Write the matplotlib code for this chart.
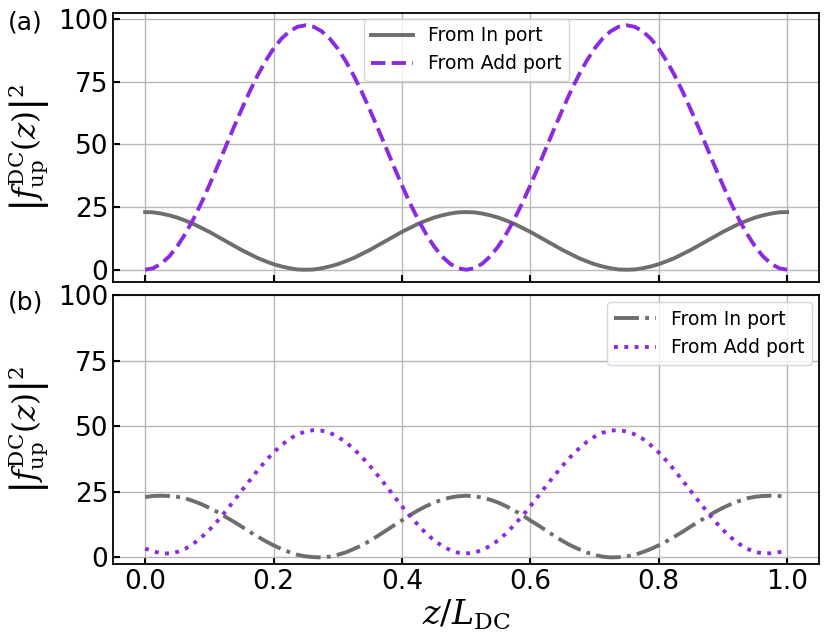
import numpy as np
import matplotlib
matplotlib.use('Agg')
import matplotlib.pyplot as plt

plt.rcParams['mathtext.fontset'] = 'dejavuserif'

# z / L_DC sample points (step 0.0125)
z = np.linspace(0.0, 1.0, 81)

# (a) values
in_a = [23.0, 22.9, 22.4, 21.7, 20.8, 19.6, 18.3, 16.7, 15.1, 13.3, 11.5, 9.7, 7.9, 6.3, 4.7, 3.4, 2.2, 1.3, 0.6, 0.1, 0.0,
        0.1, 0.6, 1.3, 2.2, 3.4, 4.7, 6.3, 7.9, 9.7, 11.5, 13.3, 15.1, 16.7, 18.3, 19.6, 20.8, 21.7, 22.4, 22.9, 23.0,
        22.9, 22.4, 21.7, 20.8, 19.6, 18.3, 16.7, 15.1, 13.3, 11.5, 9.7, 7.9, 6.3, 4.7, 3.4, 2.2, 1.3, 0.6, 0.1, 0.0,
        0.1, 0.6, 1.3, 2.2, 3.4, 4.7, 6.3, 7.9, 9.7, 11.5, 13.3, 15.1, 16.7, 18.3, 19.6, 20.8, 21.7, 22.4, 22.9, 23.0]
add_a = [0.0, 0.6, 2.4, 5.3, 9.3, 14.3, 20.1, 26.6, 33.7, 41.1, 48.8, 56.4, 63.8, 70.9, 77.4, 83.2, 88.2, 92.2, 95.1, 96.9, 97.5,
         96.9, 95.1, 92.2, 88.2, 83.2, 77.4, 70.9, 63.8, 56.4, 48.8, 41.1, 33.7, 26.6, 20.1, 14.3, 9.3, 5.3, 2.4, 0.6, 0.0,
         0.6, 2.4, 5.3, 9.3, 14.3, 20.1, 26.6, 33.7, 41.1, 48.8, 56.4, 63.8, 70.9, 77.4, 83.2, 88.2, 92.2, 95.1, 96.9, 97.5,
         96.9, 95.1, 92.2, 88.2, 83.2, 77.4, 70.9, 63.8, 56.4, 48.8, 41.1, 33.7, 26.6, 20.1, 14.3, 9.3, 5.3, 2.4, 0.6, 0.0]

# (b)
in_b = [23.0, 23.4, 23.5, 23.4, 23.1, 22.5, 21.5, 20.3, 18.9, 17.3, 15.5, 13.7, 11.8, 9.8, 8.0, 6.2, 4.6, 3.2, 2.0, 1.0,
        0.4, 0.1, 0.0, 0.3, 1.0, 1.9, 3.2, 4.6, 6.3, 8.2, 10.2, 12.2, 14.1, 16.1, 17.9, 19.5, 20.9, 22.0, 22.8, 23.3, 23.5,
        23.3, 22.8, 22.0, 20.9, 19.5, 17.9, 16.1, 14.1, 12.2, 10.2, 8.2, 6.3, 4.6, 3.2, 1.9, 1.0, 0.3, 0.0, 0.1, 0.4,
        1.0, 2.0, 3.2, 4.6, 6.2, 8.0, 9.8, 11.8, 13.7, 15.5, 17.3, 18.9, 20.3, 21.5, 22.5, 23.1, 23.4, 23.5, 23.4, 23.0]
add_b = [3.4, 2.3, 1.6, 1.5, 2.1, 3.3, 5.2, 7.6, 10.5, 13.8, 17.5, 21.3, 25.3, 29.2, 33.1, 36.7, 40.0, 42.8, 45.2, 46.9,
         48.0, 48.5, 48.3, 47.5, 46.0, 43.9, 41.3, 38.3, 34.9, 31.2, 27.4, 23.4, 19.5, 15.8, 12.4, 9.2, 6.5, 4.4, 2.8, 1.8, 1.5,
         1.8, 2.8, 4.4, 6.5, 9.2, 12.4, 15.8, 19.5, 23.4, 27.4, 31.2, 34.9, 38.3, 41.3, 43.9, 46.0, 47.5, 48.3, 48.5, 48.0,
         46.9, 45.2, 42.8, 40.0, 36.7, 33.1, 29.2, 25.3, 21.3, 17.5, 13.8, 10.5, 7.6, 5.2, 3.3, 2.1, 1.5, 1.6, 2.0, 2.6]

xticks = [0.0, 0.2, 0.4, 0.6, 0.8, 1.0]
yticks = [0, 25, 50, 75, 100]
labels = ['From In port', 'From Add port']

GRAY = '#6e6e6e'
PURPLE = '#8a2be2'
YLAB = r'$\left|f_{\mathrm{up}}^{\mathrm{DC}}(z)\right|^2$'

fig = plt.figure(figsize=(8.25, 6.43), dpi=100)
ax1 = fig.add_axes([0.137, 0.5614, 0.856, 0.4184])
ax2 = fig.add_axes([0.137, 0.1229, 0.856, 0.4184])

ax1.plot(z, in_a, color=GRAY, lw=2.8, label=labels[0])
ax1.plot(z, add_a, color=PURPLE, lw=2.8, ls='--', label=labels[1])
ax2.plot(z, in_b, color=GRAY, lw=2.8, ls='-.', label=labels[0])
ax2.plot(z, add_b, color=PURPLE, lw=2.8, ls=':', label=labels[1])

for ax in (ax1, ax2):
    ax.set_xlim(-0.05, 1.05)
    ax.set_xticks(xticks)
    ax.set_yticks(yticks)
    ax.grid(True, color='#b8b8b8', lw=1.0)
    ax.tick_params(direction='in', length=5, width=1.5, labelsize=19)
    ax.set_ylabel(YLAB, fontsize=22, labelpad=4)
    for s in ax.spines.values():
        s.set_linewidth(1.3)

ax1.set_ylim(-4.9, 102.4)
ax2.set_ylim(-2.5, 100)
ax1.tick_params(labelbottom=False)
ax2.set_xticklabels([f'{t:.1f}' for t in xticks])
ax2.set_xlabel(r'$z/L_{\mathrm{DC}}$', fontsize=24, labelpad=2)

ax1.legend(loc='upper center', fontsize=13.5, handlelength=2.2, borderaxespad=0.3)
ax2.legend(loc='upper right', fontsize=13.5, handlelength=2.2, borderaxespad=0.4)

fig.text(0.01, 0.965, '(a)', fontsize=18, va='center')
fig.text(0.01, 0.53, '(b)', fontsize=18, va='center')

fig.savefig('out.png', dpi=100)
